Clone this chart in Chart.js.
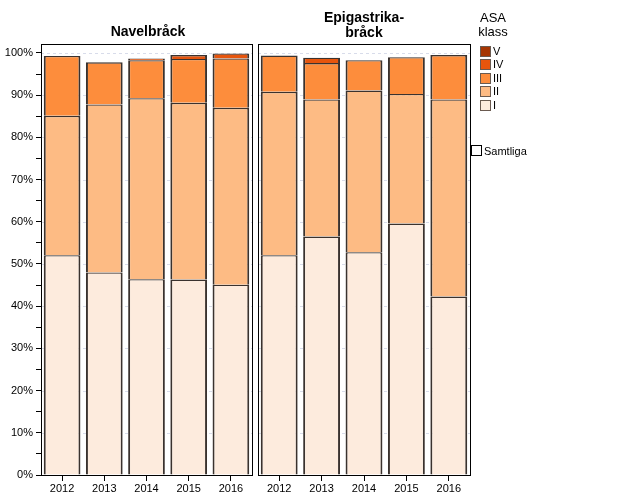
<!DOCTYPE html>
<html>
<head>
<meta charset="utf-8">
<script src="https://cdn.jsdelivr.net/npm/chart.js@4"></script>
<style>
  body { margin: 0; background: #fff; font-family: "Liberation Sans", Arial, sans-serif; }
  #wrap { position: relative; width: 627px; height: 502px; }
  canvas { position: absolute; top: 0; }
  .title { position: absolute; font-weight: bold; font-size: 14px; text-align: center; line-height: 15px; color: #000; }
  .leg { position: absolute; font-size: 11px; color: #000; }
  .sw { position: absolute; width: 9px; height: 9px; border: 1px solid #6a5a50; }
</style>
</head>
<body>
<div id="wrap">
  <canvas id="c1" width="256" height="502" style="left:0;width:256px;height:502px"></canvas>
  <canvas id="c2" width="222" height="502" style="left:252px;width:222px;height:502px"></canvas>
  <div class="title" style="left:88px;width:120px;top:24px">Navelbråck</div>
  <div class="title" style="left:294px;width:140px;top:10px">Epigastrika-<br>bråck</div>
  <div id="legend"></div>
</div>
<script>
  // Data (percent of each ASA class per year)
  const years = ['2012', '2013', '2014', '2015', '2016'];
  const classes = ['I', 'II', 'III', 'IV', 'V'];
  const colors = ['#fdebdd', '#fdbb84', '#fd8d3c', '#e6550d', '#a63603'];

  // Navelbråck
  const navel_I = [52.1, 48.0, 46.4, 46.3, 45.1];
  const navel_II = [33.0, 39.8, 42.9, 41.9, 41.9];
  const navel_III = [14.2, 10.0, 9.0, 10.4, 11.7];
  const navel_IV = [0, 0, 0.4, 0.9, 1.2];
  const navel_V = [0, 0, 0, 0, 0];

  // Epigastrikabråck
  const epi_I = [52.1, 56.5, 52.8, 59.6, 42.3];
  const epi_II = [38.7, 32.5, 38.3, 30.7, 46.7];
  const epi_III = [8.6, 8.6, 7.2, 8.7, 10.5];
  const epi_IV = [0, 1.3, 0, 0, 0];
  const epi_V = [0, 0, 0, 0, 0];

  const yTicks = [0, 5, 10, 15, 20, 25, 30, 35, 40, 45, 50, 55, 60, 65, 70, 75, 80, 85, 90, 95, 100];

  Chart.defaults.font.family = '"Liberation Sans", Arial, sans-serif';
  Chart.defaults.font.size = 11;
  Chart.defaults.color = '#000';

  function makeDatasets(series) {
    return series.map(function (values, i) {
      return {
        label: classes[i],
        data: values.map(function (v) { return v === 0 ? null : v; }),
        backgroundColor: colors[i],
        borderColor: '#3a322e',
        borderWidth: { top: 1.4, left: 2, right: 2, bottom: 0 },
        borderSkipped: false,
        barPercentage: 0.87,
        categoryPercentage: 1.0
      };
    });
  }

  // Draws the black frame around each panel
  const frame = {
    id: 'frame',
    afterDraw: function (chart) {
      const a = chart.chartArea;
      const ctx = chart.ctx;
      ctx.save();
      ctx.strokeStyle = '#000';
      ctx.lineWidth = 1;
      ctx.strokeRect(Math.round(a.left) + 0.5, Math.round(a.top) + 0.5,
        Math.round(a.right - a.left), Math.round(a.bottom - a.top));
      ctx.restore();
    }
  };

  // Dashed gridlines every 10 %, behind the bars
  const grid = {
    id: 'grid',
    beforeDatasetsDraw: function (chart) {
      const a = chart.chartArea;
      const y = chart.scales.y;
      const ctx = chart.ctx;
      ctx.save();
      ctx.strokeStyle = 'rgba(200,205,225,0.7)';
      ctx.setLineDash([3, 3]);
      for (let v = 10; v <= 100; v += 10) {
        const py = Math.round(y.getPixelForValue(v)) + 0.5;
        ctx.beginPath();
        ctx.moveTo(a.left, py);
        ctx.lineTo(a.right, py);
        ctx.stroke();
      }
      ctx.restore();
    }
  };

  function makeConfig(series, showY, yWidth) {
    return {
      type: 'bar',
      data: { labels: years, datasets: makeDatasets(series) },
      plugins: [grid, frame],
      options: {
        responsive: false,
        animation: false,
        layout: { padding: { top: 44, left: 0, right: 4, bottom: 0 } },
        plugins: { legend: { display: false }, tooltip: { enabled: false } },
        scales: {
          x: {
            stacked: true,
            afterFit: function (s) { s.height = 27; },
            border: { display: false },
            grid: { offset: false, drawOnChartArea: false, tickLength: 6, tickColor: '#000', lineWidth: 1 },
            ticks: { padding: 1, font: { size: 11 } }
          },
          y: {
            stacked: true,
            min: 0,
            max: 102.13,
            afterFit: function (s) { s.width = yWidth; },
            afterBuildTicks: function (s) {
              s.ticks = yTicks.map(function (v) { return { value: v }; });
            },
            border: { display: false },
            grid: {
              drawOnChartArea: false,
              color: showY ? '#000' : 'rgba(0,0,0,0)',
              tickColor: showY ? '#000' : 'rgba(0,0,0,0)',
              tickLength: 5
            },
            ticks: {
              display: showY,
              padding: 3,
              font: { size: 11 },
              callback: function (v) { return v % 10 === 0 ? v + '%' : ''; }
            }
          }
        }
      }
    };
  }

  new Chart(document.getElementById('c1'),
    makeConfig([navel_I, navel_II, navel_III, navel_IV, navel_V], true, 41));

  new Chart(document.getElementById('c2'),
    makeConfig([epi_I, epi_II, epi_III, epi_IV, epi_V], false, 6));

  // Legend (ASA klass)
  const legend = document.getElementById('legend');
  let html = '<div class="leg" style="left:470px;width:46px;top:11px;font-size:13px;text-align:center;line-height:14px">ASA<br>klass</div>';
  for (let i = classes.length - 1; i >= 0; i--) {
    const top = 46 + (classes.length - 1 - i) * 13.4;
    html += '<div class="sw" style="left:480px;top:' + top + 'px;background:' + colors[i] + '"></div>';
    html += '<div class="leg" style="left:493px;top:' + (top - 1) + 'px">' + classes[i] + '</div>';
  }
  html += '<div class="sw" style="left:471px;top:145px;background:#fff;border-color:#000"></div>';
  html += '<div class="leg" style="left:484px;top:145px">Samtliga</div>';
  legend.innerHTML = html;
</script>
</body>
</html>
